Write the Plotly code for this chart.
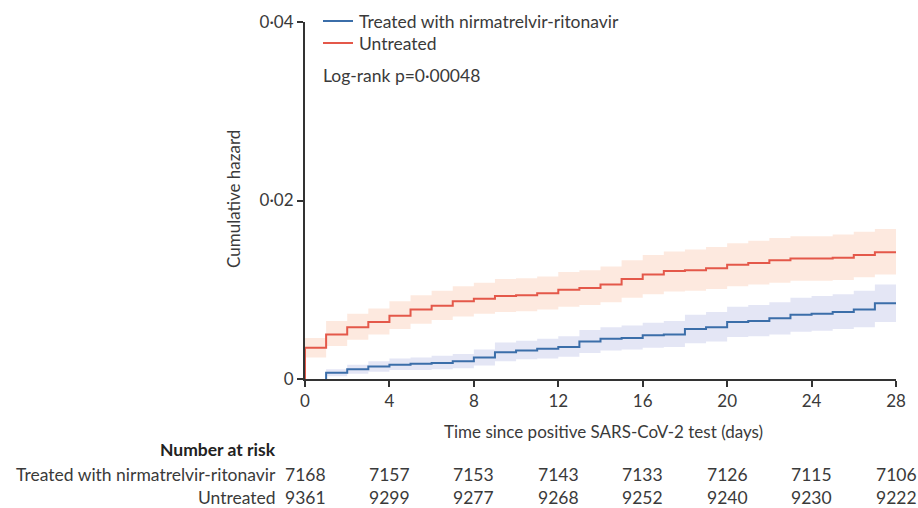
import plotly.graph_objects as go

# ---- data ----
days = list(range(0, 29))
untreated = [0.0035, 0.0050, 0.0058, 0.0064, 0.0071, 0.0078, 0.0082, 0.0087, 0.0090, 0.0093,
             0.0094, 0.0096, 0.0100, 0.0102, 0.0106, 0.0112, 0.0117, 0.0121, 0.0122, 0.0124,
             0.0128, 0.0130, 0.0133, 0.0135, 0.0135, 0.0136, 0.0139, 0.0142, 0.0143]
untreated_lo = [0.0024, 0.0037, 0.0044, 0.0050, 0.0056, 0.0062, 0.0066, 0.0070, 0.0073, 0.0075,
                0.0076, 0.0078, 0.0081, 0.0083, 0.0086, 0.0091, 0.0095, 0.0098, 0.0099, 0.0101,
                0.0104, 0.0106, 0.0108, 0.0110, 0.0110, 0.0111, 0.0114, 0.0117, 0.0118]
untreated_hi = [0.0046, 0.0065, 0.0073, 0.0079, 0.0087, 0.0094, 0.0099, 0.0104, 0.0108, 0.0112,
                0.0113, 0.0115, 0.0120, 0.0122, 0.0126, 0.0133, 0.0139, 0.0143, 0.0145, 0.0148,
                0.0152, 0.0155, 0.0158, 0.0160, 0.0160, 0.0162, 0.0165, 0.0168, 0.0169]
treated = [0.0, 0.0007, 0.0011, 0.0014, 0.0016, 0.0017, 0.0018, 0.0020, 0.0024, 0.0030,
           0.0032, 0.0034, 0.0036, 0.0042, 0.0045, 0.0046, 0.0049, 0.0050, 0.0056, 0.0058,
           0.0064, 0.0065, 0.0068, 0.0072, 0.0073, 0.0075, 0.0078, 0.0085, 0.0086]
treated_lo = [0.0, 0.0003, 0.0006, 0.0008, 0.0010, 0.0010, 0.0011, 0.0012, 0.0015, 0.0020,
              0.0022, 0.0023, 0.0025, 0.0029, 0.0032, 0.0033, 0.0035, 0.0036, 0.0040, 0.0042,
              0.0047, 0.0048, 0.0050, 0.0053, 0.0054, 0.0056, 0.0058, 0.0064, 0.0065]
treated_hi = [0.0, 0.0011, 0.0016, 0.0020, 0.0023, 0.0024, 0.0026, 0.0028, 0.0033, 0.0041,
              0.0043, 0.0045, 0.0048, 0.0055, 0.0058, 0.0060, 0.0063, 0.0065, 0.0072, 0.0075,
              0.0081, 0.0083, 0.0086, 0.0091, 0.0093, 0.0095, 0.0099, 0.0106, 0.0107]

x_ticks = [0, 4, 8, 12, 16, 20, 24, 28]
y_ticks = [0, 0.02, 0.04]
y_tick_labels = ["0", "0·02", "0·04"]
risk_treated = [7168, 7157, 7153, 7143, 7133, 7126, 7115, 7106]
risk_untreated = [9361, 9299, 9277, 9268, 9252, 9240, 9230, 9222]
label_treated = "Treated with nirmatrelvir-ritonavir"
label_untreated = "Untreated"
pvalue_text = "Log-rank p=0·00048"

RED = "#e4584a"
BLUE = "#3b6ea9"
RED_BAND = "rgba(248,170,130,0.26)"
BLUE_BAND = "rgba(150,160,215,0.26)"
TXT = "#3a3a3a"
FONT = "Lato"
FS = 17.5

fig = go.Figure()

def add_band(x, lo, hi, color):
    fig.add_trace(go.Scatter(x=x, y=lo, mode="lines", line=dict(width=0, shape="hv"),
                             hoverinfo="skip", showlegend=False))
    fig.add_trace(go.Scatter(x=x, y=hi, mode="lines", line=dict(width=0, shape="hv"),
                             fill="tonexty", fillcolor=color, hoverinfo="skip", showlegend=False))

add_band(days, untreated_lo, untreated_hi, RED_BAND)
# treated curve has no events before day 1: start it at its first step
add_band(days[1:], treated_lo[1:], treated_hi[1:], BLUE_BAND)

fig.add_trace(go.Scatter(x=[days[0]] + days, y=[0] + untreated, mode="lines",
                         line=dict(color=RED, width=2, shape="hv"), showlegend=False))
fig.add_trace(go.Scatter(x=[days[1]] + days[1:], y=[treated[0]] + treated[1:], mode="lines",
                         line=dict(color=BLUE, width=2, shape="hv"), showlegend=False))

W, H = 918, 508
ml, mr, mt, mb = 305, 22, 22, 129
pw, ph = W - ml - mr, H - mt - mb

def px(xpix):
    return (xpix - ml) / pw

def py(ypix):
    return (mt + ph - ypix) / ph

annotations = []
shapes = []

# legend
for ypix, col, lab in [(21, BLUE, label_treated), (43, RED, label_untreated)]:
    shapes.append(dict(type="line", xref="paper", yref="paper", x0=px(323), x1=px(353),
                       y0=py(ypix), y1=py(ypix), line=dict(color=col, width=2)))
    annotations.append(dict(xref="paper", yref="paper", x=px(357), y=py(ypix), text=lab,
                            showarrow=False, xanchor="left", yanchor="middle",
                            font=dict(size=FS, color=TXT, family=FONT)))
annotations.append(dict(xref="paper", yref="paper", x=px(321), y=py(75), text=pvalue_text,
                        showarrow=False, xanchor="left", yanchor="middle",
                        font=dict(size=FS, color=TXT, family=FONT)))

# axis titles
annotations.append(dict(xref="paper", yref="paper", x=px(233), y=py(199), text="Cumulative hazard",
                        showarrow=False, textangle=-90, xanchor="center", yanchor="middle",
                        font=dict(size=17, color=TXT, family=FONT)))
annotations.append(dict(xref="paper", yref="paper", x=px(603), y=py(431),
                        text="Time since positive SARS-CoV-2 test (days)",
                        showarrow=False, xanchor="center", yanchor="middle",
                        font=dict(size=17, color=TXT, family=FONT)))

# number at risk table
annotations.append(dict(xref="paper", yref="paper", x=px(278), y=py(449), text="<b>Number at risk</b>",
                        showarrow=False, xanchor="right", yanchor="middle",
                        font=dict(size=FS, color="#222", family=FONT)))
for ypix, lab, vals in [(474, label_treated, risk_treated), (497, label_untreated, risk_untreated)]:
    annotations.append(dict(xref="paper", yref="paper", x=px(278), y=py(ypix), text=lab,
                            showarrow=False, xanchor="right", yanchor="middle",
                            font=dict(size=FS, color=TXT, family=FONT)))
    for t, v in zip(x_ticks, vals):
        annotations.append(dict(xref="x", yref="paper", x=t, y=py(ypix), text=str(v),
                                showarrow=False, xanchor="center", yanchor="middle",
                                font=dict(size=17.5, color=TXT, family=FONT)))

axis_common = dict(showline=True, linecolor="#333", linewidth=2, ticks="outside", ticklen=6,
                   tickwidth=1.5, tickcolor="#333", showgrid=False, zeroline=False,
                   layer="below traces", tickfont=dict(size=17, color=TXT, family=FONT))

fig.update_layout(
    width=W, height=H,
    margin=dict(l=ml, r=mr, t=mt, b=mb),
    paper_bgcolor="white", plot_bgcolor="white",
    xaxis=dict(range=[0, 28], tickvals=x_ticks, **axis_common),
    yaxis=dict(range=[0, 0.04001], tickvals=y_ticks, ticktext=y_tick_labels, **axis_common),
    annotations=annotations, shapes=shapes,
    showlegend=False,
)

fig.write_html(
    "out.html",
    config={"displayModeBar": False},
    post_script="document.body.style.margin='0';document.body.style.overflow='hidden';",
)
